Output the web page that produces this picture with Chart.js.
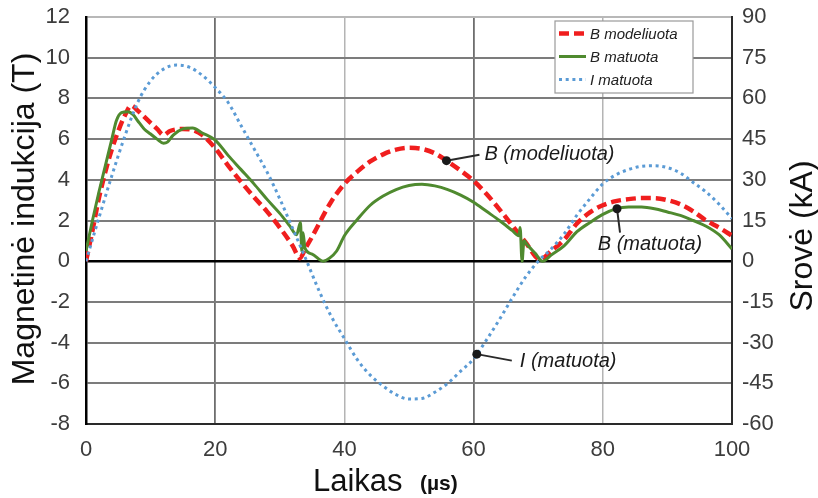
<!DOCTYPE html>
<html>
<head>
<meta charset="utf-8">
<script src="https://cdn.jsdelivr.net/npm/chart.js@4.4.0/dist/chart.umd.min.js"></script>
<style>
  html, body { margin: 0; padding: 0; background: #fff; }
  #wrap { width: 818px; height: 498px; position: relative; }
</style>
</head>
<body>
<div id="wrap"><canvas id="c" width="818" height="498"></canvas></div>
<script>
// Modelled flux density B (T) against time (µs)
const timeBModel = [0,1,2,3,4,5,6,7,8,9,10,11,12,13,14,15,16.5,18,20,22,24,26,28,30,32,33.1,
  34,35,36,37,38,40,42,44,46,48,50,52,54,56,58,60,62,64,66,68,70.3,
  72,74,76,78,80,82,84,86,88,90,92,94,96,98,100];
const bModel = [0,1.5,3.1,4.4,5.5,6.4,7.15,7.65,7.4,7.1,6.8,6.5,6.2,6.4,6.48,6.5,6.45,6.2,5.55,4.7,3.9,3.15,2.45,1.65,0.75,0.15,
  0.65,1.2,1.8,2.4,2.95,3.8,4.4,4.9,5.25,5.48,5.57,5.52,5.3,4.9,4.45,3.95,3.3,2.55,1.75,0.95,0.08,
  0.5,1.05,1.85,2.4,2.75,2.95,3.05,3.1,3.1,3.0,2.8,2.45,2.0,1.65,1.25];

// Measured flux density B (T)
const timeBMeas = [0,1,2,3,4,4.7,5.5,6.5,7.3,8,9,10,11,12,12.6,13.5,15,16.5,18,20,
  22,24,26,28,30,31.5,32.6,33.2,33.4,33.6,33.9,35,36.7,37.7,38.8,40,42,44,46,48,
  50,52,54,56,58,60,62,64,66,67,67.2,67.5,67.8,68.2,69.5,70.7,72,74,76,78,
  80,82,84,86,88,90,92,94,96,98,100];
const bMeas = [0.5,2.0,3.4,4.7,6.0,6.9,7.3,7.35,7.2,6.9,6.5,6.25,6.0,5.8,5.85,6.2,6.5,6.55,6.3,5.95,
  5.2,4.5,3.8,3.05,2.35,1.75,1.3,1.9,0.5,1.4,0.64,0.35,0.0,0.15,0.5,1.25,2.05,2.75,3.2,3.52,
  3.72,3.78,3.7,3.52,3.25,2.9,2.45,2.0,1.5,1.25,1.65,0.0,1.0,0.85,0.4,0.0,0.3,0.75,1.45,1.9,
  2.3,2.57,2.66,2.66,2.58,2.42,2.25,2.0,1.72,1.3,0.6];

// Measured current I (kA)
const timeCurrent = [0,2,4,6,8,10,12,14,16,18,20,22,24,26,28,30,32,34,36,38,40,42,44,46,48,50,
  52,54,56,58,60,62,64,66,68,70,72,74,76,78,80,82,84,86,88,90,92,94,96,98,100];
const current = [0,16,31.5,46,58.5,66.5,70.8,72.3,71.5,68.5,64,58.5,50,41.5,33,23,12,1,-10.5,-20.5,-28.5,-36.3,-42,-46,-49.2,-50.8,
  -50.6,-48.3,-45,-40.5,-36,-29,-21.5,-13.5,-6,0,4.5,10,17,23,28.5,31.8,33.8,35,35.2,34.5,32.5,29,25.5,21,15.7];

// Axis ranges and ticks
const timeTicks = [0, 20, 40, 60, 80, 100];
const bTicks = [-8, -6, -4, -2, 0, 2, 4, 6, 8, 10, 12];
const currentTicks = [-60, -45, -30, -15, 0, 15, 30, 45, 60, 75, 90];

const seriesLabels = ['B modeliuota', 'B matuota', 'I matuota'];
const axisTitleLeft = 'Magnetinė indukcija (T)';
const axisTitleRight = 'Srovė (kA)';
const axisTitleBottom = 'Laikas';
const axisUnitBottom = '(µs)';

// Callouts: series index, time where the callout touches the curve, text
const callouts = [
  { series: 0, t: 55.8, text: 'B (modeliuota)' },
  { series: 1, t: 82.2, text: 'B (matuota)' },
  { series: 2, t: 60.5, text: 'I (matuota)' }
];

const FONT = '"Liberation Sans", Arial, Helvetica, sans-serif';
Chart.defaults.font.family = FONT;

const toPoints = (ts, vs) => ts.map((t, i) => ({ x: t, y: vs[i] }));
const interp = (ts, vs, t) => {
  for (let i = 1; i < ts.length; i++) {
    if (t <= ts[i]) {
      const f = (t - ts[i - 1]) / (ts[i] - ts[i - 1]);
      return vs[i - 1] + f * (vs[i] - vs[i - 1]);
    }
  }
  return vs[vs.length - 1];
};
const seriesSource = [[timeBModel, bModel, 'y'], [timeBMeas, bMeas, 'y'], [timeCurrent, current, 'y2']];

const RED = '#f01e1e', GREEN = '#4f8a2f', BLUE = '#5b9bd5';

// Boxed legend inside the plot, top right
const innerLegend = {
  id: 'innerLegend',
  afterDatasetsDraw(chart) {
    const { ctx, chartArea } = chart;
    const left = chartArea.right - 177, top = chartArea.top + 4, w = 138, h = 72;
    ctx.save();
    ctx.fillStyle = '#fff';
    ctx.fillRect(left, top, w, h);
    ctx.strokeStyle = '#9a9a9a';
    ctx.lineWidth = 1.2;
    ctx.strokeRect(left, top, w, h);
    chart.data.datasets.forEach((ds, i) => {
      const y = top + 12.5 + i * 23;
      ctx.beginPath();
      ctx.strokeStyle = ds.borderColor;
      ctx.lineWidth = ds.borderWidth;
      ctx.setLineDash(ds.borderDash || []);
      ctx.moveTo(left + 4, y);
      ctx.lineTo(left + 31, y);
      ctx.stroke();
      ctx.setLineDash([]);
      ctx.fillStyle = '#222';
      ctx.font = 'italic 15px ' + FONT;
      ctx.textBaseline = 'middle';
      ctx.textAlign = 'left';
      ctx.fillText(ds.label, left + 35, y + 1);
    });
    ctx.restore();
  }
};

// Callout dots with leader lines and italic labels
const calloutPlugin = {
  id: 'callouts',
  afterDatasetsDraw(chart) {
    const { ctx } = chart;
    const xs = chart.scales.x;
    const style = [
      { lx: 33, ly: -6, tx: 38, ty: -6, align: 'left' },
      { lx: 3, ly: 24, tx: 33, ty: 36, align: 'center' },
      { lx: 35, ly: 6.5, tx: 43, ty: 7, align: 'left' }
    ];
    ctx.save();
    callouts.forEach((c, i) => {
      const [ts, vs, axis] = seriesSource[c.series];
      const px = xs.getPixelForValue(c.t);
      const py = chart.scales[axis].getPixelForValue(interp(ts, vs, c.t));
      const s = style[i];
      ctx.beginPath();
      ctx.strokeStyle = '#2a2a2a';
      ctx.lineWidth = 2;
      ctx.moveTo(px, py);
      ctx.lineTo(px + s.lx, py + s.ly);
      ctx.stroke();
      ctx.beginPath();
      ctx.fillStyle = '#1a1a1a';
      ctx.arc(px, py, 4.5, 0, Math.PI * 2);
      ctx.fill();
      ctx.font = 'italic 20px ' + FONT;
      ctx.textAlign = s.align;
      ctx.textBaseline = 'middle';
      ctx.fillStyle = '#1a1a1a';
      ctx.fillText(c.text, px + s.tx, py + s.ty);
    });
    ctx.restore();
  }
};

// Axis titles (both vertical titles read bottom to top)
const axisTitles = {
  id: 'axisTitles',
  afterDraw(chart) {
    const { ctx } = chart;
    ctx.save();
    ctx.fillStyle = '#111';
    ctx.textBaseline = 'alphabetic';
    ctx.textAlign = 'center';
    ctx.font = '32px ' + FONT;
    ctx.save();
    ctx.translate(34, 219);
    ctx.rotate(-Math.PI / 2);
    ctx.fillText(axisTitleLeft, 0, 0);
    ctx.restore();
    ctx.save();
    ctx.translate(812, 236);
    ctx.rotate(-Math.PI / 2);
    ctx.fillText(axisTitleRight, 0, 0);
    ctx.restore();
    ctx.textAlign = 'left';
    ctx.font = '31px ' + FONT;
    ctx.fillText(axisTitleBottom, 313, 491);
    ctx.font = 'bold 21px ' + FONT;
    ctx.fillText(axisUnitBottom, 420, 490);
    ctx.restore();
  }
};

const tickFont = { size: 22, family: FONT };
const tickColor = '#3c3c3c';

// Fixed side-axis width; label overhang should not push the plot edges
const fixVertical = s => { s.width = 86; s.paddingTop = 0; s.paddingBottom = 0; };

new Chart(document.getElementById('c'), {
  type: 'line',
  data: {
    datasets: [
      { label: seriesLabels[0], data: toPoints(timeBModel, bModel), yAxisID: 'y',
        borderColor: RED, borderWidth: 4.5, borderDash: [10, 5], order: 3 },
      { label: seriesLabels[1], data: toPoints(timeBMeas, bMeas), yAxisID: 'y',
        borderColor: GREEN, borderWidth: 3, order: 2 },
      { label: seriesLabels[2], data: toPoints(timeCurrent, current), yAxisID: 'y2',
        borderColor: BLUE, borderWidth: 3, borderDash: [3, 3.7], order: 1 }
    ]
  },
  options: {
    responsive: false,
    animation: false,
    layout: { padding: { top: 17, left: 0, right: 0, bottom: 0 } },
    elements: {
      point: { radius: 0 },
      line: { cubicInterpolationMode: 'monotone', fill: false }
    },
    plugins: { legend: { display: false }, tooltip: { enabled: false } },
    scales: {
      x: {
        type: 'linear', min: 0, max: 100,
        afterBuildTicks: s => { s.ticks = timeTicks.map(v => ({ value: v })); },
        afterFit: s => { s.height = 74; s.paddingLeft = 0; s.paddingRight = 0; },
        ticks: { font: tickFont, color: tickColor, padding: 13, maxRotation: 0 },
        grid: {
          drawTicks: false,
          color: c => (c.tick.value === 20 || c.tick.value === 60) ? '#6e6e6e' :
                      (c.tick.value === 40 || c.tick.value === 80) ? '#b4b4b4' : 'rgba(0,0,0,0)',
          lineWidth: c => (c.tick.value === 20 || c.tick.value === 60) ? 1.8 : 1.5
        },
        border: { color: '#2a2a2a', width: 2 }
      },
      y: {
        position: 'left', min: -8, max: 12,
        afterBuildTicks: s => { s.ticks = bTicks.map(v => ({ value: v })); },
        afterFit: fixVertical,
        ticks: { font: tickFont, color: tickColor, padding: 16 },
        grid: {
          drawTicks: false,
          color: c => c.tick.value === 0 ? '#000' : (c.tick.value === 12 ? '#b8b8b8' : '#7c7c7c'),
          lineWidth: c => c.tick.value === 0 ? 2.5 : 2
        },
        border: { color: '#000', width: 2.5 }
      },
      y2: {
        position: 'right', min: -60, max: 90,
        afterBuildTicks: s => { s.ticks = currentTicks.map(v => ({ value: v })); },
        afterFit: fixVertical,
        ticks: { font: tickFont, color: tickColor, padding: 10 },
        grid: { drawOnChartArea: false, drawTicks: false },
        border: { color: '#2a2a2a', width: 2 }
      }
    }
  },
  plugins: [innerLegend, calloutPlugin, axisTitles]
});
</script>
</body>
</html>
